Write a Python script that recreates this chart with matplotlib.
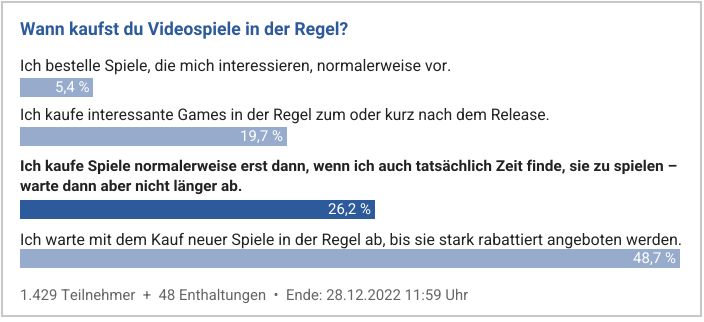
import matplotlib
matplotlib.use("Agg")
import matplotlib.pyplot as plt
from matplotlib.patches import Rectangle

plt.rcParams["text.hinting"] = "no_hinting"

title = "Wann kaufst du Videospiele in der Regel?"
labels = [
    "Ich bestelle Spiele, die mich interessieren, normalerweise vor.",
    "Ich kaufe interessante Games in der Regel zum oder kurz nach dem Release.",
    "Ich kaufe Spiele normalerweise erst dann, wenn ich auch tatsächlich Zeit finde, sie zu spielen –\nwarte dann aber nicht länger ab.",
    "Ich warte mit dem Kauf neuer Spiele in der Regel ab, bis sie stark rabattiert angeboten werden.",
]
values = [5.4, 19.7, 26.2, 48.7]
highlight = [False, False, True, False]
value_labels = ["5,4 %", "19,7 %", "26,2 %", "48,7 %"]
footer = "1.429 Teilnehmer  +  48 Enthaltungen  •  Ende: 28.12.2022 11:59 Uhr"

FONT = ["Roboto", "DejaVu Sans"]
W, H = 704, 322
fig = plt.figure(figsize=(W / 100, H / 100), dpi=100)
ax = fig.add_axes([0, 0, 1, 1])
ax.set_xlim(0, W)
ax.set_ylim(H, 0)
ax.axis("off")
renderer = fig.canvas.get_renderer()


def fit(t, target_w):
    """Scale a text's font size so that it spans target_w pixels."""
    for _ in range(4):
        w = t.get_window_extent(renderer).width
        if w <= 0:
            break
        t.set_fontsize(t.get_fontsize() * target_w / w)


# card border
ax.add_patch(Rectangle((1.5, 1.5), 699, 314, fill=False, edgecolor="#c8c8c8", lw=1.5))

t = ax.text(20, 30, title, fontsize=12.6, fontweight="bold", color="#2d5a9a",
            family=FONT, va="center", ha="left")
fit(t, 327)

label_y = [66, 115, 167, 240]
label_w = [429, 527, 655, 660]
bar_y = [87.5, 136.5, 209.5, 258.5]
full = 660
vmax = max(values)
light, dark = "#97accd", "#2d5a9a"
for lab, ly, lw_, by, v, hl, vl in zip(labels, label_y, label_w, bar_y, values, highlight, value_labels):
    if hl:
        lines = lab.split("\n")
        size = None
        for i, line in enumerate(lines):
            t = ax.text(20, ly + 20 * i, line, fontsize=11.3, color="#222222", family=FONT,
                        fontweight="bold", va="center", ha="left")
            if i == 0:
                fit(t, lw_)
                size = t.get_fontsize()
            else:
                t.set_fontsize(size)
    else:
        t = ax.text(20, ly, lab, fontsize=11.2, color="#222222", family=FONT,
                    va="center", ha="left")
        fit(t, lw_)
    w = v / vmax * full
    ax.barh(by, w, left=20, height=19, color=dark if hl else light)
    ax.text(20 + w - 4, by, vl, fontsize=10.8, color="white", family=FONT,
            va="center", ha="right")

t = ax.text(20, 296, footer, fontsize=10.7, color="#666666", family=FONT,
            va="center", ha="left")
fit(t, 447)

fig.savefig("out.png", dpi=100, facecolor="white")
